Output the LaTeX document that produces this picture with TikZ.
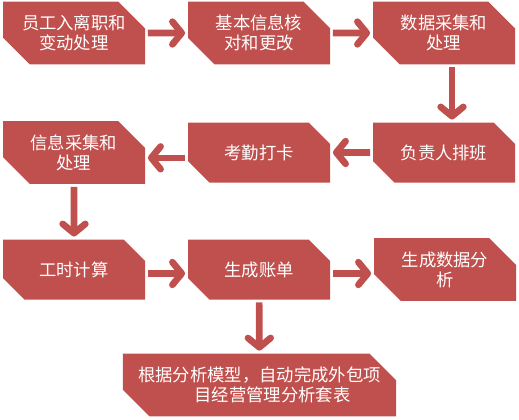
\documentclass[tikz,border=0pt]{standalone}
\usepackage{fontspec}
\newfontfamily\cjk{Noto Sans CJK SC}
\usetikzlibrary{shapes.misc,arrows.meta}
\definecolor{boxred}{HTML}{C0504D}

\begin{document}
\begin{tikzpicture}[x=0.75pt, y=-0.75pt,
		every node/.style={font=\cjk\fontsize{13}{15}\selectfont, text=white},
		stepbox/.style={chamfered rectangle, chamfered rectangle corners={north east, south west},
			chamfered rectangle xsep=10pt, chamfered rectangle ysep=10pt, fill=boxred,
			minimum width=106.5pt, minimum height=45pt, inner sep=0pt, align=center},
		flow/.style={boxred, line width=5pt, -{Straight Barb[length=7pt, width=17pt, round]},
			shorten <=2pt, shorten >=2pt}]
		\useasboundingbox (0,0) rectangle (519,419);
		
		% Boxes
		\node[stepbox] (b1) at (74,33) {员工入离职和\\变动处理};
		\node[stepbox] (b2) at (259,33) {基本信息核\\对和更改};
		\node[stepbox] (b3) at (444,33) {数据采集和\\处理};
		\node[stepbox] (b4) at (444,152.5) {负责人排班};
		\node[stepbox] (b5) at (259,152.5) {考勤打卡};
		\node[stepbox] (b6) at (74,152.5) {信息采集和\\处理};
		\node[stepbox] (b7) at (74,269.5) {工时计算};
		\node[stepbox] (b8) at (259,269.5) {生成账单};
		\node[stepbox] (b9) at (445,269.5) {生成数据分\\析};
		\node[stepbox, minimum width=205pt] (b10) at (259.5,385)
			{根据分析模型，自动完成外包项\\\hspace{1.5em}目经营管理分析套表};
		
		% Flow arrows
		\draw[flow] (b1) -- (b2);
		\draw[flow] (b2) -- (b3);
		\draw[flow] ([xshift=6pt]b3.south) -- ([xshift=6pt]b4.north);
		\draw[flow] (b4) -- (b5);
		\draw[flow] ([yshift=-4pt]b5.west) -- ([yshift=-4pt]b6.east);
		\draw[flow] (b6) -- (b7);
		\draw[flow] ([yshift=-3pt]b7.east) -- ([yshift=-3pt]b8.west);
		\draw[flow] ([yshift=-3pt]b8.east) -- ([yshift=-3pt]b9.west);
		\draw[flow] (b8) -- (b10);
	\end{tikzpicture}
\end{document}
